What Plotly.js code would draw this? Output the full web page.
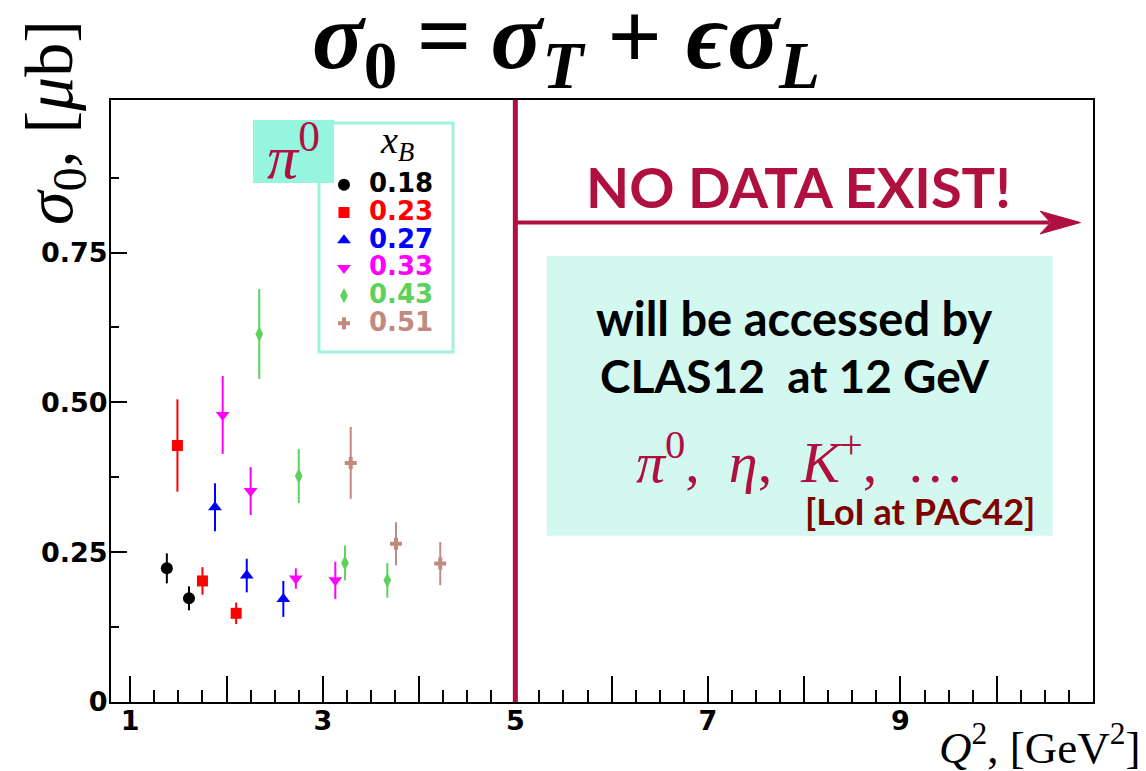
<!DOCTYPE html>
<html>
<head>
<meta charset="utf-8">
<script src="https://cdn.plot.ly/plotly-3.0.1.min.js"></script>
<style>
  html, body { margin: 0; padding: 0; background: #ffffff; }
  #chart { width: 1146px; height: 771px; }
</style>
</head>
<body>
<div id="chart"></div>
<script>
// pi0 electroproduction cross section sigma_0 vs Q^2, one series per x_B bin
const xbLabels = ['0.18', '0.23', '0.27', '0.33', '0.43', '0.51'];

const q2_018  = [1.38, 1.61];
const sig_018 = [0.223, 0.173];
const err_018 = [0.025, 0.020];

const q2_023  = [1.49, 1.75, 2.10];
const sig_023 = [0.428, 0.202, 0.148];
const err_023 = [0.077, 0.023, 0.018];

const q2_027  = [1.88, 2.21, 2.59];
const sig_027 = [0.325, 0.211, 0.172];
const err_027 = [0.040, 0.028, 0.030];

const q2_033  = [1.96, 2.25, 2.72, 3.13];
const sig_033 = [0.479, 0.352, 0.206, 0.203];
const err_033 = [0.065, 0.040, 0.017, 0.031];

const q2_043  = [2.34, 2.75, 3.23, 3.67];
const sig_043 = [0.614, 0.377, 0.232, 0.203];
const err_043 = [0.075, 0.045, 0.029, 0.029];

const q2_051  = [3.29, 3.76, 4.22];
const sig_051 = [0.399, 0.264, 0.231];
const err_051 = [0.060, 0.036, 0.036];

// labelled x ticks, plus unlabelled integer ticks drawn by an overlay axis
const xTickVals = [1, 3, 5, 7, 9];
const xTickText = ['1', '3', '5', '7', '9'];
const xPlainTicks = [2, 4, 6, 8, 10, 11];
const yTickVals = [0, 0.25, 0.5, 0.75];
const yTickText = ['0', '0.25', '0.50', '0.75'];

// boundary of the measured region and reach of the 12 GeV programme
const boundaryQ2 = 5;
const arrowLevel = 0.8;

const series = [
  {x: q2_018, y: sig_018, e: err_018},
  {x: q2_023, y: sig_023, e: err_023},
  {x: q2_027, y: sig_027, e: err_027},
  {x: q2_033, y: sig_033, e: err_033},
  {x: q2_043, y: sig_043, e: err_043},
  {x: q2_051, y: sig_051, e: err_051}
];

const colors  = ['#000000', '#ff0000', '#0000ff', '#ff00ff', '#5cd25c', '#c08a7e'];
const symbols = ['circle', 'square', 'triangle-up', 'triangle-down', 'diamond-tall', 'cross'];
const sizes   = [12, 11, 12, 12, 11, 10];

const crimson = '#b01040';
const legendEdge = '#9ff2de';

const traces = series.map((s, i) => ({
  type: 'scatter',
  mode: 'markers',
  x: s.x,
  y: s.y,
  name: '<span style="font-size:26px;color:' + colors[i] + '">' + xbLabels[i] + '</span>',
  marker: {symbol: symbols[i], size: sizes[i], color: colors[i], line: {width: 0}},
  error_y: {type: 'data', array: s.e, visible: true, color: colors[i], thickness: 2, width: 0},
  hoverinfo: 'x+y'
}));

// empty carrier for the overlay axis holding the unlabelled integer ticks
traces.push({type: 'scatter', mode: 'markers', x: [], y: [], xaxis: 'x2', yaxis: 'y',
             showlegend: false, hoverinfo: 'skip'});

// minor tick positions every quarter unit (integers carry the major ticks)
const xMinor = [];
for (let k = 1; k < 11; k++) { [0.25, 0.5, 0.75].forEach(f => xMinor.push(k + f)); }
const yMinor = [0.125, 0.375, 0.625, 0.875];

const tickFont = {family: 'DejaVu Sans', size: 27, weight: 'bold', color: '#000000'};

const layout = {
  width: 1146,
  height: 771,
  margin: {l: 111, r: 53, t: 100, b: 69},
  paper_bgcolor: '#ffffff',
  plot_bgcolor: '#ffffff',
  showlegend: true,
  title: {
    text: '<i>σ</i><sub>0</sub>\u2009=\u2009<i>σ</i><sub><i>T</i></sub> + <i>ϵσ</i><sub><i>L</i></sub>',
    font: {family: 'Liberation Serif', size: 96, weight: 'bold', color: '#000000'},
    x: 0.494, xanchor: 'center', xref: 'container',
    y: 0.955, yanchor: 'middle', yref: 'container'
  },
  xaxis: {
    range: [0.8, 11.0],
    showgrid: false, zeroline: false,
    showline: true, linecolor: '#000000', linewidth: 2, mirror: true,
    ticks: 'inside', ticklen: 26, tickwidth: 1.5, tickcolor: '#000000',
    tickmode: 'array', tickvals: xTickVals, ticktext: xTickText,
    tickfont: tickFont, ticklabelstandoff: -6,
    minor: {tickmode: 'array', tickvals: xMinor, ticks: 'inside', ticklen: 12, tickwidth: 1.5, tickcolor: '#000000', showgrid: false}
  },
  xaxis2: {
    overlaying: 'x', matches: 'x', anchor: 'y', side: 'bottom',
    showgrid: false, zeroline: false, showline: false, showticklabels: false,
    ticks: 'inside', ticklen: 26, tickwidth: 1.5, tickcolor: '#000000',
    tickmode: 'array', tickvals: xPlainTicks
  },
  yaxis: {
    range: [0, 1.0045],
    showgrid: false, zeroline: false,
    showline: true, linecolor: '#000000', linewidth: 2, mirror: true,
    ticks: 'inside', ticklen: 16, tickwidth: 1.5, tickcolor: '#000000',
    tickmode: 'array', tickvals: yTickVals, ticktext: yTickText,
    tickfont: tickFont, ticklabelstandoff: -4,
    minor: {tickmode: 'array', tickvals: yMinor, ticks: 'inside', ticklen: 8, tickwidth: 1.5, tickcolor: '#000000', showgrid: false}
  },
  legend: {
    x: 0.2118, y: 0.8904, xanchor: 'left', yanchor: 'top',
    bgcolor: 'rgba(0,0,0,0)', borderwidth: 0,
    font: {family: 'DejaVu Sans', size: 19, weight: 'bold', color: '#000000'},
    itemwidth: 40
  },
  shapes: [
    // shaded panel for the future programme
    {type: 'rect', xref: 'paper', yref: 'paper', x0: 0.4437, x1: 0.9589, y0: 0.2761, y1: 0.741,
     fillcolor: '#d2f8ef', line: {width: 0}, layer: 'below'},
    // legend frame
    {type: 'rect', xref: 'paper', yref: 'paper', x0: 0.2118, x1: 0.3483, y0: 0.5816, y1: 0.9618,
     fillcolor: '#ffffff', line: {color: legendEdge, width: 3}, layer: 'above'},
    // boundary line
    {type: 'line', xref: 'x', yref: 'paper', x0: boundaryQ2, x1: boundaryQ2, y0: 0, y1: 1,
     line: {color: crimson, width: 5}},
    // arrow shaft
    {type: 'line', xref: 'x', yref: 'y', x0: boundaryQ2, x1: 10.55, y0: arrowLevel, y1: arrowLevel,
     line: {color: crimson, width: 4}},
    // arrow head
    {type: 'path', xref: 'x', yref: 'y',
     path: 'M 10.87 ' + arrowLevel + ' L 10.45 ' + (arrowLevel + 0.019) + ' L 10.56 ' + arrowLevel +
           ' L 10.45 ' + (arrowLevel - 0.019) + ' Z',
     fillcolor: crimson, line: {color: crimson, width: 1}}
  ],
  annotations: [
    // pi0 tag on the legend corner
    {xref: 'paper', yref: 'paper', x: 0.1446, y: 0.9668, xanchor: 'left', yanchor: 'top',
     width: 81, height: 63, bgcolor: '#96f5de', borderpad: 0, borderwidth: 0,
     text: '<i>π</i><sup>0</sup>', showarrow: false,
     font: {family: 'Liberation Serif', size: 62, color: crimson}},
    // legend heading
    {xref: 'paper', yref: 'paper', x: 0.2912, y: 0.9286, xanchor: 'center', yanchor: 'middle',
     text: '<i>x</i><sub><i>B</i></sub>', showarrow: false,
     font: {family: 'Liberation Serif', size: 38, color: '#000000'}},
    {xref: 'paper', yref: 'paper', x: 0.6996, y: 0.857, xanchor: 'center', yanchor: 'middle',
     text: 'NO DATA EXIST!', showarrow: false,
     font: {family: 'Lato', size: 56, weight: 'bold', color: crimson}},
    {xref: 'paper', yref: 'paper', x: 0.6965, y: 0.638, xanchor: 'center', yanchor: 'middle',
     text: 'will be accessed by', showarrow: false,
     font: {family: 'Lato', size: 47, weight: 'bold', color: '#000000'}},
    {xref: 'paper', yref: 'paper', x: 0.6965, y: 0.5418, xanchor: 'center', yanchor: 'middle',
     text: 'CLAS12\u00a0\u00a0at 12 GeV', showarrow: false,
     font: {family: 'Lato', size: 46, weight: 'bold', color: '#000000'}},
    {xref: 'paper', yref: 'paper', x: 0.7016, y: 0.405, xanchor: 'center', yanchor: 'middle',
     text: '<i>π</i><sup>0</sup>,\u00a0\u00a0<i>η</i>,\u00a0\u00a0<i>K</i><sup>+</sup>,\u00a0\u00a0…', showarrow: false,
     font: {family: 'Liberation Serif', size: 58, color: crimson}},
    {xref: 'paper', yref: 'paper', x: 0.8238, y: 0.3176, xanchor: 'center', yanchor: 'middle',
     text: '[LoI at PAC42]', showarrow: false,
     font: {family: 'Lato', size: 36, weight: 'bold', color: '#800000'}},
    // axis titles
    {xref: 'paper', yref: 'paper', x: -0.058, y: 0.962, xanchor: 'center', yanchor: 'middle',
     textangle: -90, text: '<i>σ</i><sub>0</sub>, [<i>μ</i>b]', showarrow: false,
     font: {family: 'Liberation Serif', size: 68, color: '#000000'}},
    {xref: 'paper', yref: 'paper', x: 1.0499, y: -0.0709, xanchor: 'right', yanchor: 'middle',
     text: '<i>Q</i><sup>2</sup>, [GeV<sup>2</sup>]', showarrow: false,
     font: {family: 'Liberation Serif', size: 45, color: '#000000'}}
  ]
};

Plotly.newPlot('chart', traces, layout, {displayModeBar: false, responsive: false});
</script>
</body>
</html>
